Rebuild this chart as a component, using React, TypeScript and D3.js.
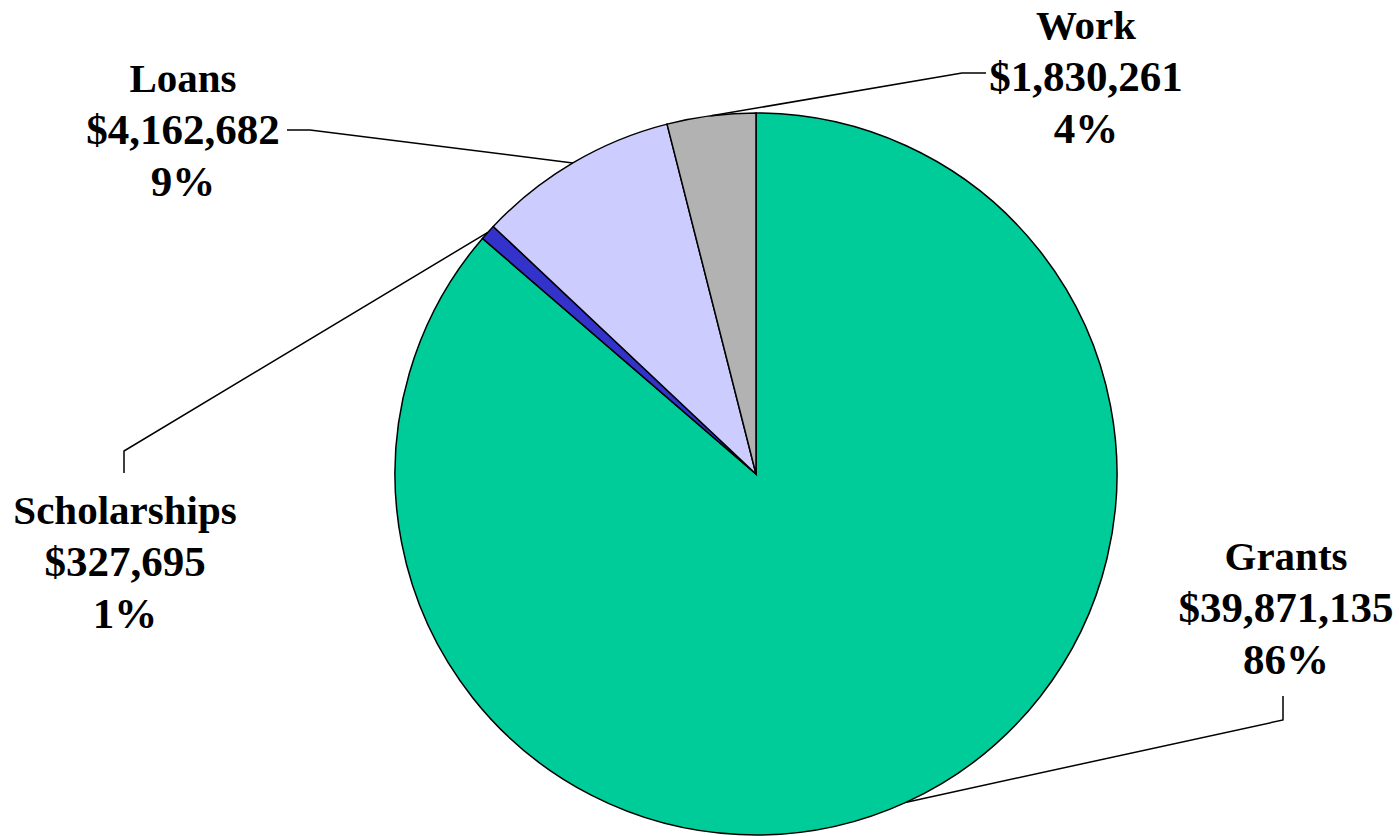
import React from 'react';
import * as d3 from 'd3';

// Aid categories, in drawing order (clockwise from 12 o'clock)
const categories = ['Grants', 'Scholarships', 'Loans', 'Work'];
const amounts = [39871135, 327695, 4162682, 1830261];
const colors = ['#00CC99', '#3333CC', '#CCCCFF', '#B2B2B2'];

// label anchor (centre x, first baseline y) and leader elbow / end for each slice
const labelPos: [number, number][] = [[1286, 570], [125, 524], [183, 92], [1086, 39]];
const leaderElbow: [number, number][] = [[1283, 720], [124, 451], [310, 130], [962, 73]];
const leaderEnd: [number, number][] = [[1283, 696], [124, 473], [287, 130], [986, 73]];

const width = 1399;
const height = 836;
const cx = 756;
const cy = 474;
const radius = 361;
const lineGap = 52;

const fmtMoney = (v: number) => '$' + d3.format(',')(v);
const fmtPct = d3.format('.0%');

export default function App() {
  const total = d3.sum(amounts);
  const pie = d3.pie<number>().sort(null).value(d => d);
  const arcs = pie(amounts);
  const arc = d3.arc<d3.PieArcDatum<number>>().innerRadius(0).outerRadius(radius);

  return (
    <svg
      width={width}
      height={height}
      viewBox={`0 0 ${width} ${height}`}
      style={{ position: 'absolute', left: 0, top: 0, background: '#fff' }}
    >
      <g transform={`translate(${cx},${cy})`}>
        {arcs.map((a, i) => (
          <path key={categories[i]} d={arc(a) || ''} fill={colors[i]} stroke="#000" strokeWidth={1.5} />
        ))}
      </g>

      {/* leader lines from slice mid-point on the rim */}
      {arcs.map((a, i) => {
        const mid = (a.startAngle + a.endAngle) / 2;
        const x0 = cx + radius * Math.sin(mid);
        const y0 = cy - radius * Math.cos(mid);
        const pts: [number, number][] = [[x0, y0], leaderElbow[i], leaderEnd[i]];
        return (
          <path
            key={'l' + categories[i]}
            d={d3.line()(pts) || ''}
            fill="none"
            stroke="#000"
            strokeWidth={1.5}
          />
        );
      })}

      {categories.map((c, i) => {
        const [lx, ly] = labelPos[i];
        const lines = [c, fmtMoney(amounts[i]), fmtPct(amounts[i] / total)];
        return (
          <text
            key={'t' + c}
            x={lx}
            y={ly}
            textAnchor="middle"
            fontFamily="'Liberation Serif', 'Times New Roman', serif"
            fontWeight="bold"
            fill="#000"
          >
            {lines.map((s, k) => (
              <tspan key={k} x={lx} y={ly + k * lineGap} fontSize={k === 0 ? 41 : 43}>{s}</tspan>
            ))}
          </text>
        );
      })}
    </svg>
  );
}
